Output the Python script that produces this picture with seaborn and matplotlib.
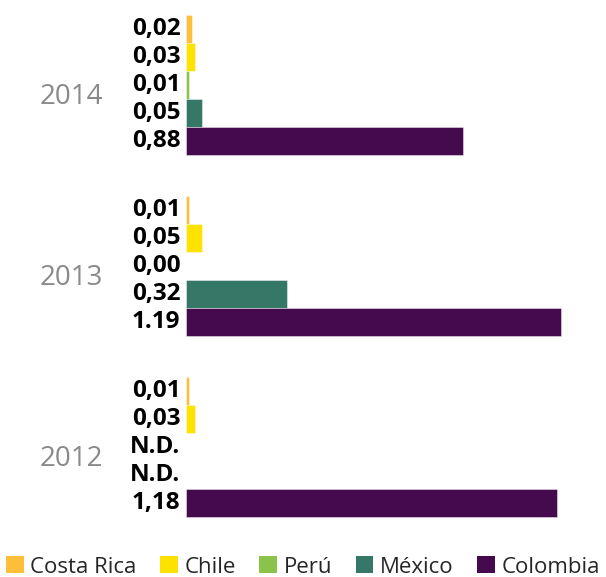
import numpy as np
import pandas as pd
import matplotlib
matplotlib.use("Agg")
import matplotlib.pyplot as plt
from matplotlib.patches import Patch
import seaborn as sns

# Años (de arriba hacia abajo) y países
years = ["2014", "2013", "2012"]
countries = ["Costa Rica", "Chile", "Perú", "México", "Colombia"]

# Valores por país, en el orden de `years`
costa_rica = [0.02, 0.01, 0.01]
chile = [0.03, 0.05, 0.03]
peru = [0.01, 0.00, np.nan]
mexico = [0.05, 0.32, np.nan]
colombia = [0.88, 1.19, 1.18]

# Etiquetas tal como se publican
costa_rica_lbl = ["0,02", "0,01", "0,01"]
chile_lbl = ["0,03", "0,05", "0,03"]
peru_lbl = ["0,01", "0,00", "N.D."]
mexico_lbl = ["0,05", "0,32", "N.D."]
colombia_lbl = ["0,88", "1.19", "1,18"]

colors = ["#fdbf3a", "#fde200", "#8bc34a", "#357868", "#440a4d"]

series = [costa_rica, chile, peru, mexico, colombia]
labels = [costa_rica_lbl, chile_lbl, peru_lbl, mexico_lbl, colombia_lbl]

rows = []
for country, vals in zip(countries, series):
    for year, v in zip(years, vals):
        rows.append({"año": year, "país": country, "valor": v})
df = pd.DataFrame(rows)

sns.set_style("white")
plt.rcParams["font.family"] = ["Open Sans", "DejaVu Sans"]

W, H = 606, 577
fig = plt.figure(figsize=(W / 100, H / 100), dpi=100)
ax = fig.add_axes([186 / W, 1 - 528 / H, (600 - 186) / W, (528 - 9) / H])

group_width = 0.774
sns.barplot(
    data=df, x="valor", y="año", hue="país",
    order=years, hue_order=countries, palette=colors,
    orient="h", width=group_width, saturation=1,
    errorbar=None, legend=False, ax=ax,
    edgecolor=(1, 1, 1, 0.5), linewidth=0.6,
)

ax.set_xlim(0, 1.315)
ax.set_ylim(2.45, -0.42)
sns.despine(ax=ax, left=True, bottom=True)
ax.set_xticks([])
ax.set_xlabel("")
ax.set_ylabel("")

# Etiquetas de valor a la izquierda de cada barra
n = len(countries)
step = group_width / n
for j, lbls in enumerate(labels):
    for i, txt in enumerate(lbls):
        y = i + (j - (n - 1) / 2) * step
        ax.annotate(txt, xy=(0, y), xytext=(-4, 0), textcoords="offset points",
                    ha="right", va="center", fontsize=17.5, fontweight="bold",
                    color="#000000")

# Años como etiquetas del eje vertical
ax.set_yticks([i + 0.05 for i in range(len(years))])
ax.set_yticklabels(years, fontsize=20, color="#8a8a8a")
ax.tick_params(axis="y", length=0, pad=60)

handles = [Patch(facecolor=c, edgecolor="none") for c in colors]
fig.legend(handles, countries, loc="center", bbox_to_anchor=(0.5, 1 - 567 / H),
           ncol=5, frameon=False, fontsize=16, handlelength=0.8, handleheight=0.8,
           handletextpad=0.3, columnspacing=1.05, borderaxespad=0)

fig.savefig("out.png", dpi=100)
